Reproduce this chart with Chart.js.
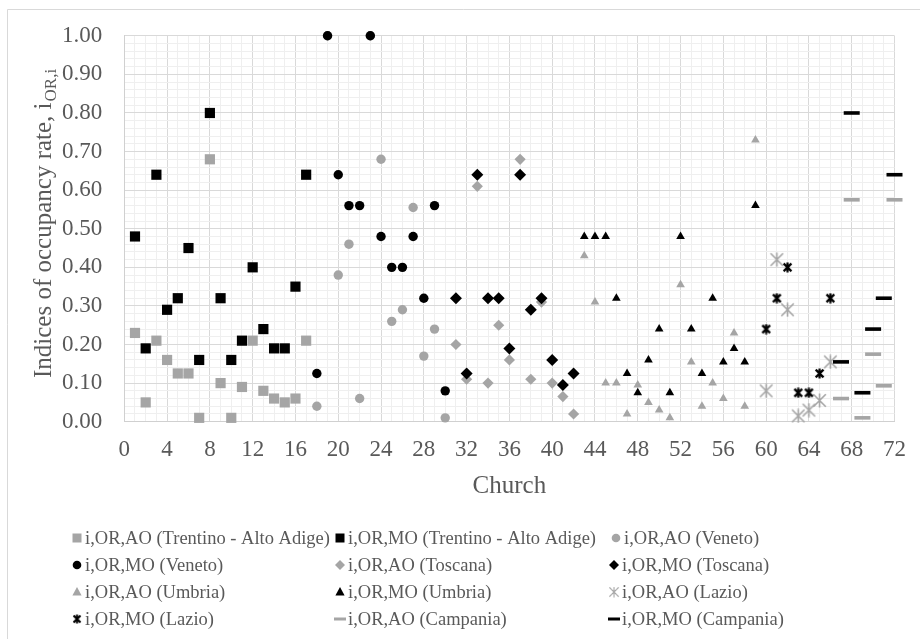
<!DOCTYPE html>
<html>
<head>
<meta charset="utf-8">
<script src="https://cdn.jsdelivr.net/npm/chart.js@4/dist/chart.umd.min.js"></script>
<style>
  html, body { margin: 0; padding: 0; background: #ffffff; }
  canvas { display: block; }
</style>
</head>
<body>
<canvas id="c" width="920" height="639"></canvas>
<script>
// Church numbers per region
const churchTAA = [1, 2, 3, 4, 5, 6, 7, 8, 9, 10, 11, 12, 13, 14, 15, 16, 17];
const churchVeneto = [18, 19, 20, 21, 22, 23, 24, 25, 26, 27, 28, 29, 30];
const churchToscana = [31, 32, 33, 34, 35, 36, 37, 38, 39, 40, 41, 42];
const churchUmbria = [43, 44, 45, 46, 47, 48, 49, 50, 51, 52, 53, 54, 55, 56, 57, 58, 59];
const churchLazio = [60, 61, 62, 63, 64, 65, 66];
const churchCampania = [67, 68, 69, 70, 71, 72];

// Occupancy rate indices: AO and MO per region
const aoTAA = [0.23, 0.05, 0.21, 0.16, 0.125, 0.125, 0.01, 0.68, 0.10, 0.01, 0.09, 0.21, 0.08, 0.06, 0.05, 0.06, 0.21];
const moTAA = [0.48, 0.19, 0.64, 0.29, 0.32, 0.45, 0.16, 0.80, 0.32, 0.16, 0.21, 0.40, 0.24, 0.19, 0.19, 0.35, 0.64];
const aoVeneto = [0.04, 1.00, 0.38, 0.46, 0.06, 1.00, 0.68, 0.26, 0.29, 0.555, 0.17, 0.24, 0.01];
const moVeneto = [0.125, 1.00, 0.64, 0.56, 0.56, 1.00, 0.48, 0.40, 0.40, 0.48, 0.32, 0.56, 0.08];
const aoToscana = [0.20, 0.11, 0.61, 0.10, 0.25, 0.16, 0.68, 0.11, 0.31, 0.10, 0.065, 0.02];
const moToscana = [0.32, 0.125, 0.64, 0.32, 0.32, 0.19, 0.64, 0.29, 0.32, 0.16, 0.095, 0.125];
const aoUmbria = [0.43, 0.31, 0.10, 0.10, 0.02, 0.095, 0.05, 0.03, 0.01, 0.355, 0.155, 0.04, 0.10, 0.06, 0.23, 0.04, 0.73];
const moUmbria = [0.48, 0.48, 0.48, 0.32, 0.125, 0.075, 0.16, 0.24, 0.075, 0.48, 0.24, 0.125, 0.32, 0.155, 0.19, 0.155, 0.56];
const aoLazio = [0.08, 0.42, 0.29, 0.015, 0.03, 0.055, 0.155];
const moLazio = [0.24, 0.32, 0.40, 0.075, 0.075, 0.125, 0.32];
const aoCampania = [0.06, 0.575, 0.01, 0.175, 0.093, 0.575];
const moCampania = [0.155, 0.80, 0.075, 0.24, 0.32, 0.64];

const seriesLabels = [
  'i,OR,AO (Trentino - Alto Adige)', 'i,OR,MO (Trentino - Alto Adige)', 'i,OR,AO (Veneto)',
  'i,OR,MO (Veneto)', 'i,OR,AO (Toscana)', 'i,OR,MO (Toscana)',
  'i,OR,AO (Umbria)', 'i,OR,MO (Umbria)', 'i,OR,AO (Lazio)',
  'i,OR,MO (Lazio)', 'i,OR,AO (Campania)', 'i,OR,MO (Campania)'
];
const xTickStep = 4;
const yTickStep = 0.1;
const yAxisTitle = 'Indices of occupancy rate, i';
const yAxisTitleSub = 'OR,i';
const xAxisTitle = 'Church';

const GREY = '#a5a5a5';
const BLACK = '#000000';
const TEXT = '#595959';
const FONT = "'Liberation Serif', 'Times New Roman', serif";

// asterisk marker: an X crossed by a vertical stroke
function asterisk(size, color, width) {
  const c = document.createElement('canvas');
  c.width = size; c.height = size;
  const g = c.getContext('2d');
  g.strokeStyle = color; g.lineWidth = width; g.lineCap = 'butt';
  const m = width / 2 + 0.5, s = size - m;
  g.beginPath();
  g.moveTo(m, m); g.lineTo(s, s);
  g.moveTo(s, m); g.lineTo(m, s);
  g.moveTo(size / 2, 0.5); g.lineTo(size / 2, size - 0.5);
  g.stroke();
  return c;
}
const starGrey = asterisk(15, GREY, 1.6);
const starBlack = asterisk(11, BLACK, 2.2);

function pts(xs, ys) { return xs.map((x, i) => ({ x: x, y: ys[i] })); }

const styles = [
  { style: 'rect', color: GREY, r: 7.2 },
  { style: 'rect', color: BLACK, r: 7.2 },
  { style: 'circle', color: GREY, r: 4.7 },
  { style: 'circle', color: BLACK, r: 4.7 },
  { style: 'rectRot', color: GREY, r: 5.6 },
  { style: 'rectRot', color: BLACK, r: 6.0 },
  { style: 'triangle', color: GREY, r: 5.0 },
  { style: 'triangle', color: BLACK, r: 5.0 },
  { style: starGrey, color: GREY, r: 7 },
  { style: starBlack, color: BLACK, r: 5 },
  { style: 'line', color: GREY, r: 8, bw: 3.6 },
  { style: 'line', color: BLACK, r: 8, bw: 3.6 }
];
const seriesData = [
  pts(churchTAA, aoTAA), pts(churchTAA, moTAA),
  pts(churchVeneto, aoVeneto), pts(churchVeneto, moVeneto),
  pts(churchToscana, aoToscana), pts(churchToscana, moToscana),
  pts(churchUmbria, aoUmbria), pts(churchUmbria, moUmbria),
  pts(churchLazio, aoLazio), pts(churchLazio, moLazio),
  pts(churchCampania, aoCampania), pts(churchCampania, moCampania)
];

const datasets = seriesData.map((d, i) => ({
  label: seriesLabels[i],
  data: d,
  order: 12 - i,
  pointStyle: styles[i].style,
  pointRadius: styles[i].r,
  pointHoverRadius: styles[i].r,
  backgroundColor: styles[i].color,
  borderColor: styles[i].color,
  pointBorderWidth: styles[i].bw || 0,
  showLine: false,
  clip: false
}));

// legend marker drawn by hand
function legendMarker(ctx, i, x, y) {
  const s = styles[i];
  ctx.save();
  ctx.fillStyle = s.color; ctx.strokeStyle = s.color;
  ctx.beginPath();
  if (s.style === 'rect') {
    ctx.fillRect(x - 4.5, y - 4.5, 9, 9);
  } else if (s.style === 'circle') {
    ctx.arc(x, y, 4.3, 0, Math.PI * 2); ctx.fill();
  } else if (s.style === 'rectRot') {
    ctx.moveTo(x, y - 5); ctx.lineTo(x + 5, y); ctx.lineTo(x, y + 5); ctx.lineTo(x - 5, y);
    ctx.closePath(); ctx.fill();
  } else if (s.style === 'triangle') {
    ctx.moveTo(x, y - 5); ctx.lineTo(x + 4.6, y + 3.5); ctx.lineTo(x - 4.6, y + 3.5);
    ctx.closePath(); ctx.fill();
  } else if (s.style === 'line') {
    ctx.fillRect(x - 6, y - 1.5, 12, 3);
  } else {
    const img = s.style;
    const k = i === 8 ? 11 : 10;
    ctx.drawImage(img, x - k / 2, y - k / 2, k, k);
  }
  ctx.restore();
}

const legendPos = [
  [77, 538], [340, 538], [616, 538],
  [77, 565], [340, 565], [614, 565],
  [77, 592], [340, 592], [614, 592],
  [77, 619], [340, 619], [614, 619]
];

const decor = {
  id: 'decor',
  beforeDraw(chart) {
    const ctx = chart.ctx;
    ctx.save();
    ctx.fillStyle = '#ffffff';
    ctx.fillRect(0, 0, chart.width, chart.height);
    ctx.strokeStyle = '#d9d9d9';
    ctx.lineWidth = 1;
    ctx.beginPath();
    ctx.moveTo(7.5, chart.height); ctx.lineTo(7.5, 9.5); ctx.lineTo(chart.width, 9.5);
    ctx.stroke();
    ctx.restore();
  },
  afterDraw(chart) {
    const ctx = chart.ctx;
    const area = chart.chartArea;
    ctx.save();
    ctx.fillStyle = TEXT;
    // y axis title with subscript
    ctx.save();
    ctx.translate(51, 378);
    ctx.rotate(-Math.PI / 2);
    ctx.font = '25px ' + FONT;
    ctx.textAlign = 'left';
    ctx.textBaseline = 'alphabetic';
    ctx.fillText(yAxisTitle, 0, 0);
    const w = ctx.measureText(yAxisTitle).width;
    ctx.font = '17px ' + FONT;
    ctx.fillText(yAxisTitleSub, w + 1, 5);
    ctx.restore();
    // x axis title
    ctx.font = '25px ' + FONT;
    ctx.textAlign = 'center';
    ctx.textBaseline = 'middle';
    ctx.fillText(xAxisTitle, (area.left + area.right) / 2, 486);
    // legend
    ctx.font = '18.5px ' + FONT;
    ctx.textAlign = 'left';
    seriesLabels.forEach((lab, i) => {
      const [x, y] = legendPos[i];
      legendMarker(ctx, i, x, y);
      ctx.fillStyle = TEXT;
      ctx.fillText(lab, x + 8, y + 1);
    });
    ctx.restore();
  }
};

new Chart(document.getElementById('c'), {
  type: 'scatter',
  data: { datasets: datasets },
  plugins: [decor],
  options: {
    responsive: false,
    animation: false,
    devicePixelRatio: 1,
    layout: { autoPadding: false, padding: { top: 31.7, right: 19, left: 0, bottom: 0 } },
    plugins: { legend: { display: false }, tooltip: { enabled: false } },
    scales: {
      x: {
        type: 'linear', min: 0, max: 72,
        afterFit(s) { s.height = 639 - 421.7; },
        grid: {
          color: c => (c.tick && c.tick.value % xTickStep === 0) ? '#d9d9d9' : '#efefef',
          lineWidth: 1, drawTicks: false
        },
        border: { display: true, color: '#d0d0d0' },
        ticks: {
          stepSize: 1, autoSkip: false, maxRotation: 0, padding: 14,
          color: TEXT, font: { family: FONT, size: 23 },
          callback: v => (v % xTickStep === 0 ? String(v) : '')
        }
      },
      y: {
        type: 'linear', min: 0, max: 1,
        afterFit(s) { s.width = 124.3; },
        grid: {
          color: c => (c.tick && Math.round(c.tick.value * 50) % Math.round(yTickStep * 50) === 0) ? '#d9d9d9' : '#efefef',
          lineWidth: 1, drawTicks: false
        },
        border: { display: true, color: '#d0d0d0' },
        ticks: {
          stepSize: 0.02, autoSkip: false, padding: 22,
          color: TEXT, font: { family: FONT, size: 23 },
          callback: v => (Math.round(v * 50) % Math.round(yTickStep * 50) === 0 ? v.toFixed(2) : '')
        }
      }
    }
  }
});
</script>
</body>
</html>
